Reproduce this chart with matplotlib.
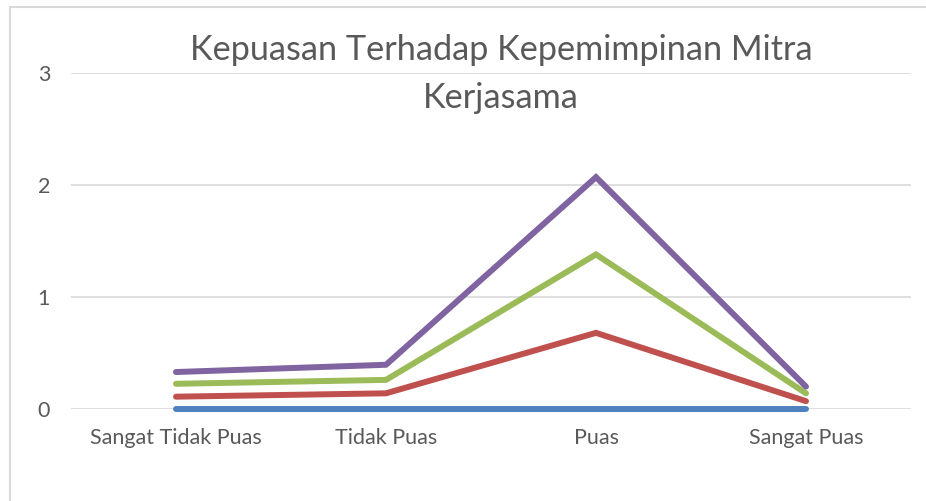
import matplotlib
matplotlib.use("Agg")
import matplotlib.pyplot as plt
from matplotlib.patches import Rectangle

# ── Data ─────────────────────────────────────────────────────────────────────
CATEGORIES = ["Sangat Tidak Puas", "Tidak Puas", "Puas", "Sangat Puas"]
SERIES_1 = [0.0, 0.0, 0.0, 0.0]
SERIES_2 = [0.11, 0.14, 0.68, 0.07]
SERIES_3 = [0.225, 0.26, 1.38, 0.14]
SERIES_4 = [0.33, 0.395, 2.07, 0.20]
Y_TICKS = [0, 1, 2, 3]
TITLE = "Kepuasan Terhadap Kepemimpinan Mitra\nKerjasama"

# ── Style ────────────────────────────────────────────────────────────────────
BLUE   = "#4F81BD"
RED    = "#C0504D"
GREEN  = "#9BBB59"
PURPLE = "#8064A2"
GRID   = "#D9D9D9"
TEXT   = "#595959"

plt.rcParams["font.family"] = ["Lato", "DejaVu Sans"]

fig = plt.figure(figsize=(9.26, 5.01), dpi=100, facecolor="white")
ax = fig.add_axes([71 / 926, 1 - 409 / 501, 840 / 926, 336 / 501])

# chart border (Excel chart area)
fig.patches.append(Rectangle((10 / 926, -0.1), 1.2, 1 - 7 / 501 + 0.1,
                             transform=fig.transFigure, fill=False,
                             edgecolor=GRID, linewidth=1.5))

xs = list(range(len(CATEGORIES)))
for vals, col in [(SERIES_1, BLUE), (SERIES_2, RED), (SERIES_3, GREEN), (SERIES_4, PURPLE)]:
    ax.plot(xs, vals, color=col, linewidth=4.3, solid_capstyle="round",
            solid_joinstyle="miter", clip_on=False, zorder=3)

ax.set_xlim(-0.5, len(CATEGORIES) - 0.5)
ax.set_ylim(0, 3)
ax.set_yticks(Y_TICKS)
ax.set_xticks(xs)
ax.set_xticklabels(CATEGORIES)
ax.yaxis.grid(True, color=GRID, linewidth=1.2)
ax.set_axisbelow(True)
for s in ax.spines.values():
    s.set_visible(False)
ax.tick_params(axis="both", length=0, labelsize=15.5, labelcolor=TEXT)
ax.tick_params(axis="x", pad=14)
ax.tick_params(axis="y", pad=15)

fig.text(501 / 926, 1 - 74 / 501, TITLE, ha="center", va="center",
         fontsize=24.7, color=TEXT, linespacing=1.6)

fig.savefig("out.png", dpi=100, facecolor="white")
